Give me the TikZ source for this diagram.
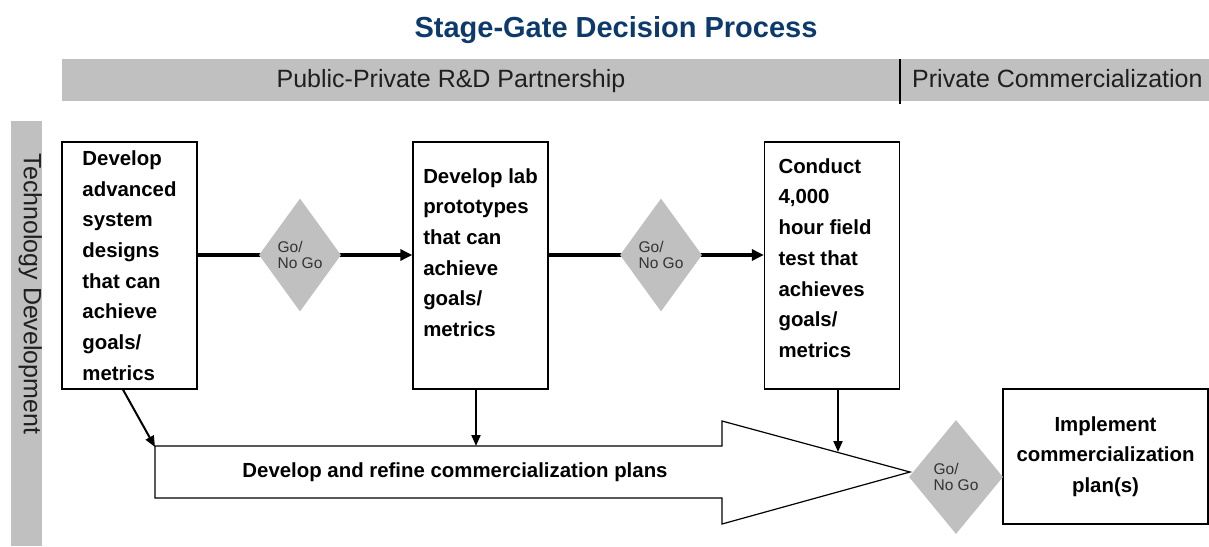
\documentclass[tikz,border=0pt]{standalone}
\usepackage{fontspec}
\setmainfont{Liberation Sans}
\usepackage{xcolor}
\usetikzlibrary{arrows.meta,positioning,shapes.geometric,backgrounds}
\definecolor{titleblue}{HTML}{0D3A6C}
\definecolor{bandgray}{HTML}{C0C0C0}
\definecolor{gatetext}{HTML}{333333}
\tikzset{stagebox/.style={rectangle,draw=black,line width=1.3pt,fill=white,
  minimum width=135pt,minimum height=247pt,inner sep=0pt,align=left,
  font=\fontsize{20.4}{30.7}\selectfont\bfseries},
  gate/.style={diamond,fill=bandgray,minimum width=82pt,minimum height=113pt,
  inner sep=0pt,align=left,text=gatetext,font=\fontsize{15.5}{16}\selectfont},
  flow/.style={-{Triangle[length=12pt,width=11pt]},line width=3.6pt},
  feed/.style={-{Triangle[length=11pt,width=9pt]},line width=2pt},
  bandlabel/.style={font=\fontsize{25}{30}\selectfont,text=black!88,
  anchor=base,inner sep=0pt}}
\begin{document}
\begin{tikzpicture}[x=1pt,y=-1pt]
 \useasboundingbox (0,0) rectangle (1209,546);
 \node[font=\fontsize{29}{34}\selectfont\bfseries,text=titleblue,anchor=base,
  inner sep=0pt] (title) at (616,37) {Stage-Gate Decision Process};
 \fill[bandgray] (62,59) rectangle (1209,101);
 \fill[bandgray] (11,121) rectangle (42,546);
 \draw[line width=1.3pt] (900,59) -- (900,104);
 \node[bandlabel] (rdlabel) at (451,87) {Public-Private R\&D Partnership};
 \node[bandlabel,anchor=base west] (commlabel) at (912,87) {Private Commercialization};
 \node[bandlabel,rotate=-90,anchor=mid] (techlabel) at (26.5,294) {Technology Development};
 \node[stagebox] (design) at (129.5,265.5)
  {Develop\\advanced\\system\\designs\\that can\\achieve\\goals/\\metrics};
 \node[stagebox,text depth=26pt] (proto) at (480.5,265.5)
  {Develop lab\\prototypes\\that can\\achieve\\goals/\\metrics};
 \node[stagebox,text depth=15pt] (field) at (832,265.5)
  {Conduct\\4,000\\hour field\kern14pt\\test that\\achieves\\goals/\\metrics};
 \node[stagebox,minimum width=205pt,minimum height=135pt,align=center]
  (implement) at (1105.5,456.5) {Implement\\commercialization\\plan(s)};
 \node[gate] (gone) at (300,255) {Go/\\No Go};
 \node[gate] (gtwo) at (661,255) {Go/\\No Go};
 \node[gate,minimum width=94pt,minimum height=114pt] (gthree) at (956,477) {Go/\\No Go};
 \begin{scope}[on background layer]
  \draw[flow] (gone -| design.east) -- (gone -| proto.west);
  \draw[flow] (gtwo -| proto.east) -- (gtwo -| field.west);
 \end{scope}
 \draw[line width=1.2pt,fill=white] (155,446) -- (722,446) -- (722,421) -- (910,472)
  -- (722,524) -- (722,498) -- (155,498) -- cycle;
 \node[font=\fontsize{20.4}{24}\selectfont\bfseries] (plans) at (455,472)
  {Develop and refine commercialization plans};
 \coordinate (planscorner) at (155,447);
 \coordinate (plansmid) at (476,446);
 \coordinate (planshead) at (838,452);
 \draw[feed] ([xshift=-6.5pt]design.south) -- (planscorner);
 \draw[feed] (proto.south -| plansmid) -- (plansmid);
 \draw[feed] (field.south -| planshead) -- (planshead);
\end{tikzpicture}
\end{document}
